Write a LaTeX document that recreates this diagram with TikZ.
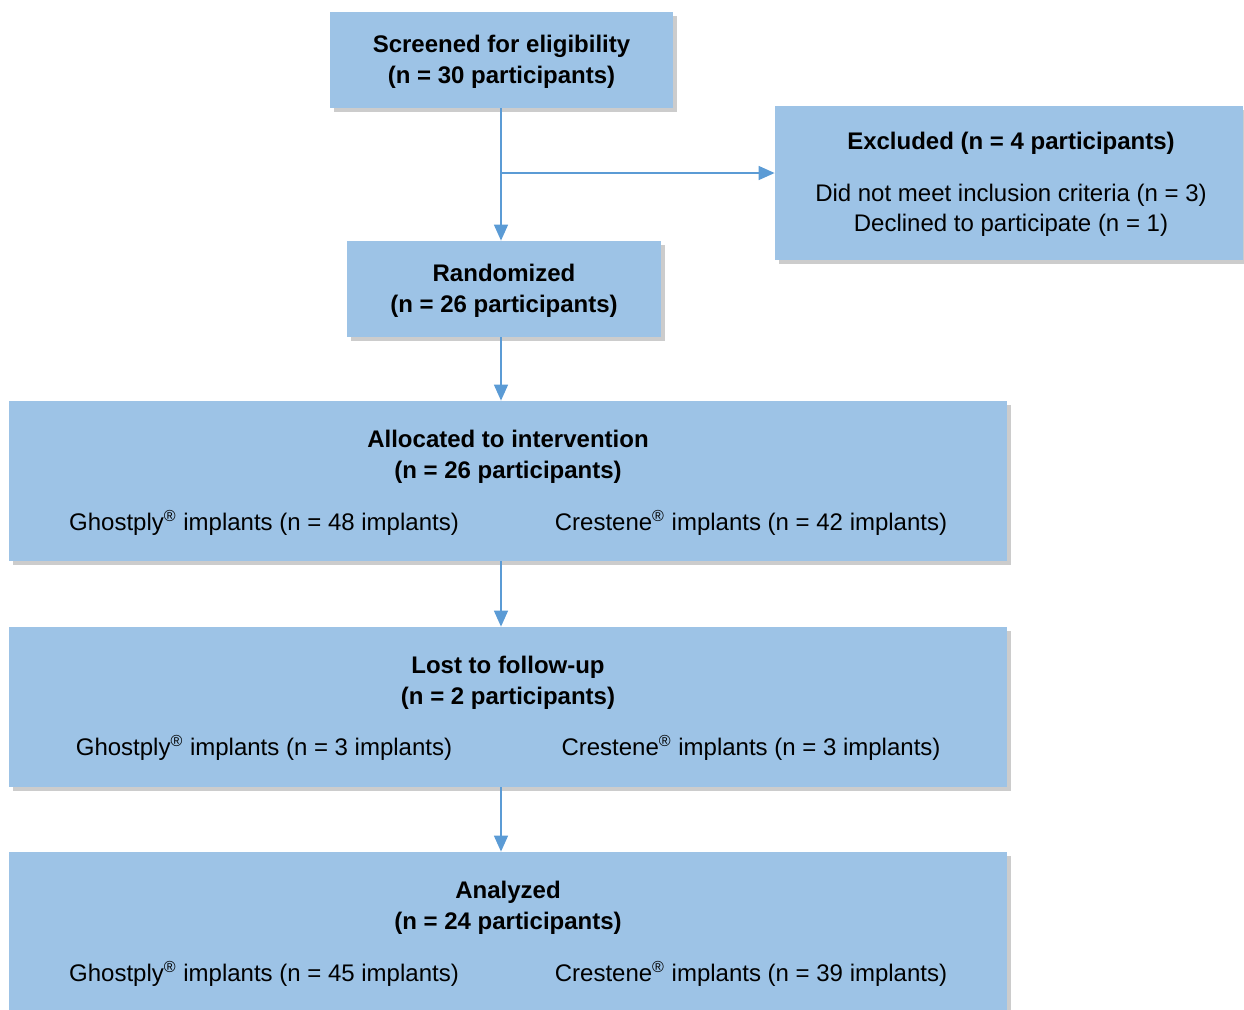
\documentclass[tikz,border=0pt]{standalone}
\usepackage{fontspec}
\setmainfont{Liberation Sans}
\usetikzlibrary{arrows.meta,shadows,positioning}
\definecolor{boxblue}{HTML}{9DC3E6}
\definecolor{lineblue}{HTML}{5B9BD5}
\tikzset{
  flowbox/.style = {rectangle, fill=boxblue, inner sep=0pt,
    drop shadow={shadow xshift=2pt, shadow yshift=-2pt, fill=black!40, opacity=0.5}},
  heading/.style = {align=center, font=\fontsize{12}{15.5}\selectfont\bfseries},
  groupnote/.style = {align=center, font=\fontsize{12}{15}\selectfont},
  flow/.style = {draw=lineblue, line width=0.75pt, -{Triangle[width=7pt,length=8pt]}}
}
\newcommand{\reg}{\textsuperscript{®}}
\begin{document}
\begin{tikzpicture}[x=0.5pt, y=-0.5pt]
\useasboundingbox (0,0) rectangle (1244,1009);
% top part
\node [flowbox, minimum width=171.5pt, minimum height=48pt] (screen) at (501.5,60) {};
\node [heading] (screenhead) at (501.5,62) {Screened for eligibility\\(n = 30 participants)};
\node [flowbox, minimum width=234pt, minimum height=77pt] (excl) at (1009,183) {};
\node [heading] (exclhead) at (1011,143) {Excluded (n = 4 participants)};
\node [groupnote] (excltext) at (1011,210)
  {Did not meet inclusion criteria (n = 3)\\ Declined to participate (n = 1)};
\node [flowbox, minimum width=157pt, minimum height=48pt] (rand) at (504,289) {};
\node [heading] (randhead) at (504,290.5) {Randomized\\(n = 26 participants)};
% wide boxes
\node [flowbox, minimum width=499pt, minimum height=80pt] (alloc) at (508,481) {};
\node [heading] at (508,457) {Allocated to intervention\\(n = 26 participants)};
\node [groupnote] at (264,523) {Ghostply\reg{} implants (n = 48 implants)};
\node [groupnote] at (751,523) {Crestene\reg{} implants (n = 42 implants)};
\node [flowbox, minimum width=499pt, minimum height=80pt] (lost) at (508,707) {};
\node [heading] at (508,682.5) {Lost to follow-up\\(n = 2 participants)};
\node [groupnote] at (264,748) {Ghostply\reg{} implants (n = 3 implants)};
\node [groupnote] at (751,748) {Crestene\reg{} implants (n = 3 implants)};
\node [flowbox, minimum width=499pt, minimum height=80pt] (anal) at (508,932) {};
\node [heading] at (508,907.5) {Analyzed\\(n = 24 participants)};
\node [groupnote] at (264,974) {Ghostply\reg{} implants (n = 45 implants)};
\node [groupnote] at (751,974) {Crestene\reg{} implants (n = 39 implants)};
% connectors
\coordinate (split) at (501,173);
\draw [flow] (split |- screen.south) -- (split |- rand.north);
\draw [flow] (split) -- (split -| excl.west);
\draw [flow] (split |- rand.south) -- (split |- alloc.north);
\draw [flow] (split |- alloc.south) -- (split |- lost.north);
\draw [flow] (split |- lost.south) -- (split |- anal.north);
\end{tikzpicture}
\end{document}
